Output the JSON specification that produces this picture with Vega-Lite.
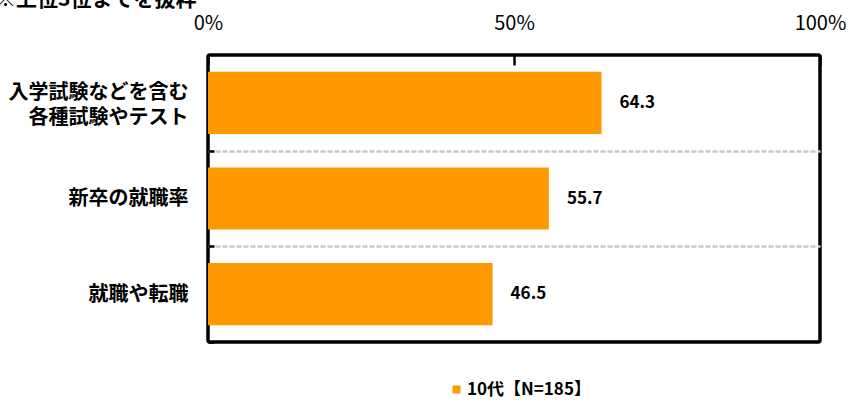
{
  "$schema": "https://vega.github.io/schema/vega-lite/v6.json",
  "width": 612,
  "height": 287,
  "autosize": {"type": "none"},
  "padding": {"left": 208, "top": 55, "right": 28, "bottom": 61},
  "title": {"text": "※上位3位までを抜粋", "anchor": "start", "dx": -13, "dy": 1, "font": "Noto Sans CJK JP", "fontSize": 21, "fontWeight": "bold", "color": "#000"},
  "data": {"values": [
    {"item": "入学試験などを含む|各種試験やテスト", "value": 64.3, "series": "10代【N=185】"},
    {"item": "新卒の就職率", "value": 55.7, "series": "10代【N=185】"},
    {"item": "就職や転職", "value": 46.5, "series": "10代【N=185】"}
  ]},
  "encoding": {
    "y": {"field": "item", "type": "nominal", "sort": null,
      "scale": {"paddingInner": 0.35, "paddingOuter": 0.175},
      "axis": {"title": null, "domain": false, "labelExpr": "split(datum.label, '|')",
        "labelFont": "Noto Sans CJK JP", "labelFontSize": 20, "labelFontWeight": "bold", "labelColor": "#000",
        "labelLineHeight": 25, "labelPadding": 26, "tickSize": -6, "tickWidth": 2.5, "tickColor": "#000",
        "bandPosition": 1, "tickOffset": 16.74,
        "labelOffset": {"condition": {"test": "indexof(datum.value, '|') >= 0", "value": -27.5}, "value": -16.74},
        "grid": true, "gridColor": "#C8C8C8", "gridWidth": 2.5, "gridDash": [5, 2],
        "gridOpacity": {"condition": {"test": "datum.value == '就職や転職'", "value": 0}, "value": 1}}},
    "x": {"field": "value", "type": "quantitative",
      "scale": {"domain": [0, 100]},
      "axis": {"orient": "top", "title": null, "domain": false, "grid": false, "values": [0, 50, 100],
        "labelExpr": "datum.value + '%'", "labelFlush": false,
        "labelFont": "Noto Sans CJK JP", "labelFontSize": 20, "labelColor": "#000",
        "tickSize": -10, "tickWidth": 2.5, "tickColor": "#000", "labelPadding": 32}}
  },
  "layer": [
    {"mark": {"type": "bar", "color": "#FF9900"},
     "encoding": {"color": {"field": "series", "type": "nominal",
       "scale": {"range": ["#FF9900"]},
       "legend": {"title": null, "orient": "none", "legendX": 240, "legendY": 326,
         "symbolType": "square", "symbolSize": 64, "symbolStrokeWidth": 0, "labelOffset": 2,
         "labelFont": "Noto Sans CJK JP", "labelFontSize": 17, "labelFontWeight": "bold", "labelColor": "#000"}}}},
    {"mark": {"type": "text", "align": "left", "dx": 18, "font": "Noto Sans CJK JP", "fontSize": 17, "fontWeight": "bold", "color": "#000"},
     "encoding": {"text": {"field": "value", "type": "quantitative", "format": ".1f"}}}
  ],
  "config": {
    "view": {"stroke": "#000", "strokeWidth": 3.5, "cornerRadius": 2},
    "background": "#fff"
  }
}
